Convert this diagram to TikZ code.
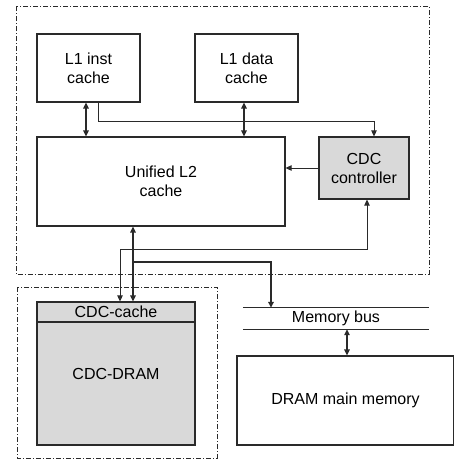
\documentclass[tikz,border=0pt]{standalone}
\usepackage{fontspec}
\setmainfont{Liberation Sans}
\usetikzlibrary{arrows.meta,positioning,calc}
\definecolor{cdcLine}{HTML}{2A2A2A}
\definecolor{cdcGray}{HTML}{D9D9D9}

\begin{document}
\begin{tikzpicture}[x=1pt,y=-1pt,font=\fontsize{16}{19}\selectfont,
          box/.style={draw=cdcLine,line width=1.2pt,align=center,inner sep=0},
          grp/.style={draw=cdcLine,line width=0.8pt,dash pattern=on 5pt off 2pt on 1pt off 2pt},
          a/.style={-{Triangle[length=6pt,width=5.5pt]},cdcLine,line width=1pt},
          bi/.style={{Triangle[length=6pt,width=5.5pt]}-{Triangle[length=6pt,width=5.5pt]},cdcLine,line width=1.8pt}]
        \clip (0,0) rectangle (454,459);
        % chip and CDC module boundaries
        \draw[grp] (16,6) rectangle (429,274);
        \draw[grp] (17,287) rectangle (217,458);

        \node[box,minimum width=103,minimum height=68] (inst) at (88.5,68) {L1 inst\\cache};
        \node[box,minimum width=103,minimum height=68] (data) at (246.5,68) {L1 data\\cache};
        \node[box,minimum width=248,minimum height=89] (l2) at (161,181.5) {Unified L2\\cache};
        \node[box,fill=cdcGray,minimum width=90,minimum height=62] (ctrl) at (364,168) {CDC\\controller};

        \node[box,fill=cdcGray,minimum width=158,minimum height=123] (cdcd) at (116,383.5) {};
        \node (cdcdl) at (116,374) {CDC-DRAM};
        \node[box,fill=cdcGray,minimum width=158,minimum height=20] (cdcc) at (116,312) {CDC-cache};

        \node[inner sep=0,minimum width=186,minimum height=21] (bus) at (336,318.5) {Memory bus};
        \draw[cdcLine,line width=1pt] (bus.north west) -- (bus.north east) (bus.south west) -- (bus.south east);
        \node[box,minimum width=217,minimum height=89] (dram) at (345.5,400.5) {DRAM main memory};

        \draw[bi] ([xshift=-2.5]inst.south) -- ([xshift=-2.5]inst.south |- l2.north);
        \draw[bi] ([xshift=-2.5]data.south) -- ([xshift=-2.5]data.south |- l2.north);
        \draw[a] ([xshift=9.5]inst.south) -- ++(0,19) -| ([xshift=10]ctrl.north);
        \draw[a] (ctrl.west) -- (ctrl.west -| l2.east);

        \draw[bi] ([xshift=-28]l2.south) -- ([xshift=-28]l2.south |- cdcc.north);
        \draw[{Triangle[length=6pt,width=5.5pt]}-{Triangle[length=6pt,width=5.5pt]},cdcLine,line width=1pt]
          ([xshift=4]cdcc.north) -- ++(0,-52) -| ([xshift=3]ctrl.south);
        \draw[a,line width=1.8pt] ([xshift=-28]l2.south) ++(0,35) -| ([xshift=-65]bus.north);
        \draw[bi,line width=1.2pt] ([xshift=11]bus.south) -- ([xshift=11]bus.south |- dram.north);
      \end{tikzpicture}
\end{document}
